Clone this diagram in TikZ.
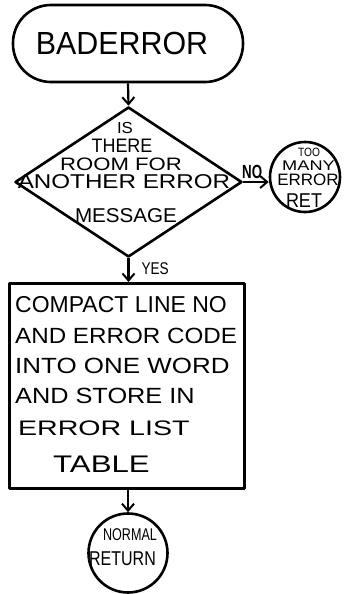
\documentclass[tikz,border=0pt]{standalone}
\usepackage{fontspec}
\usepackage{graphicx}
\setmainfont{Liberation Sans}
\usetikzlibrary{shapes.geometric,arrows.meta}
\newcommand\handtext[3]{\scalebox{#1}[1]{\fontsize{#2}{#2}\selectfont #3}}
\begin{document}
\begin{tikzpicture}[x=1pt,y=-1pt,
  shapeline/.style={draw,line width=2.6pt,line join=round,inner sep=0pt},
  conn/.style={line width=2.2pt,-{Straight Barb[length=7pt,width=12pt,line width=2pt]}},
  txt/.style={inner sep=0pt,anchor=base}]
\useasboundingbox (0,0) rectangle (345,594);
% shapes
\node[shapeline,rounded corners=38pt,minimum width=230pt,minimum height=77pt] (start) at (128,43.5) {};
\node[shapeline,diamond,minimum width=227pt,minimum height=150pt] (q) at (128.5,182) {};
\node[shapeline,circle,minimum size=70pt] (many) at (305,177) {};
\node[shapeline,rectangle,minimum width=235pt,minimum height=205pt,anchor=north west,line width=3pt] (box) at (8,282) {};
\node[shapeline,circle,minimum size=79pt] (normal) at (128,553) {};
% texts
\node[txt] (tstart) at (122,55) {\handtext{0.95}{32}{BADERROR}};
\node[txt] (q1) at (125,133) {\handtext{1.05}{16}{IS}};
\node[txt] (q2) at (122,152) {\handtext{0.92}{19.5}{THERE}};
\node[txt] (q3) at (121,170) {\handtext{1.23}{18}{ROOM FOR}};
\node[txt] (q4) at (124,188) {\handtext{1.21}{20}{ANOTHER ERROR}};
\node[txt] (q5) at (126,222) {\handtext{1.03}{20}{MESSAGE}};
\node[txt] (m1) at (309,156) {\handtext{0.85}{12}{TOO}};
\node[txt] (m2) at (308.5,170) {\handtext{1.3}{14}{MANY}};
\node[txt] (m3) at (308,185) {\handtext{1.03}{16.5}{ERROR}};
\node[txt] (m4) at (304,207) {\handtext{0.9}{20}{RET}};
\node[txt,anchor=base west] (b1) at (15,312) {\handtext{1.0}{23}{COMPACT LINE NO}};
\node[txt,anchor=base west] (b2) at (15,343) {\handtext{1.1}{22}{AND ERROR CODE}};
\node[txt,anchor=base west] (b3) at (15,373) {\handtext{1.18}{22}{INTO ONE WORD}};
\node[txt,anchor=base west] (b4) at (15,403) {\handtext{1.15}{22}{AND STORE IN}};
\node[txt,anchor=base west] (b5) at (18,435) {\handtext{1.36}{21}{ERROR LIST}};
\node[txt,anchor=base west] (b6) at (53,472) {\handtext{1.3}{24}{TABLE}};
\node[txt] (n1) at (130,540) {\handtext{0.74}{17}{NORMAL}};
\node[txt] (n2) at (122.5,565) {\handtext{0.8}{20}{RETURN}};
% connectors
\draw[conn] (start.south) -- (q.north);
\draw[conn] (q.east) -- (q.east -| many.west) node[pos=0.35,above=1pt,inner sep=1pt] (no) {\handtext{0.7}{19}{\bfseries NO}};
\draw[conn] (q.south) -- (q.south |- box.north) node[pos=0.45,right=12pt,inner sep=0pt] (yes) {\handtext{0.8}{17}{YES}};
\draw[conn] (normal.north |- box.south) -- (normal.north);
\end{tikzpicture}
\end{document}
